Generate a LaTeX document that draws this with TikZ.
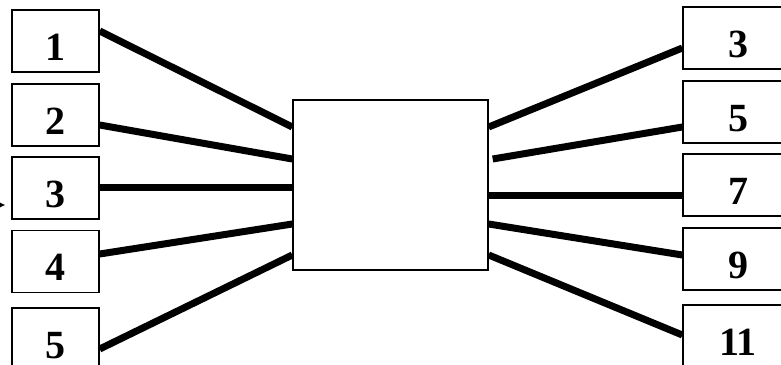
\documentclass[tikz,border=0pt]{standalone}
\usepackage{fontspec}
\setmainfont{Liberation Serif}
\usetikzlibrary{arrows.meta}

\tikzset{
  numbox/.style={draw, line width=1.4pt, minimum width=87pt, minimum height=62pt,
    inner sep=0pt, text height=38pt, text depth=0pt,
    font=\fontsize{40}{48}\selectfont\bfseries},
  outbox/.style={numbox, minimum width=110pt},
  wire/.style={line width=7pt}
}

\begin{document}
\begin{tikzpicture}[x=1pt, y=1pt]
	\useasboundingbox (0,0) rectangle (781,-364);
	
	% input side
	\foreach \name/\y/\t in {l1/41/1, l2/115/2, l3/188/3, l4/261.5/4, l5/339/5}
	\node[numbox] (\name) at (55.5,-\y) {\t};
	
	% output side
	\foreach \name/\y/\t in {r3/38/3, r5/112/5, r7/185/7, r9/259/9, r11/336/11}
	\node[outbox] (\name) at (738,-\y) {\t};
	
	\node[draw, line width=1.4pt, minimum width=195pt, minimum height=170pt] (hub) at (390.5,-185) {};
	
	\foreach \a/\da/\db in {l1/10/58, l2/-10/26, l3/1/-2, l4/7.5/-39, l5/-10/-70}
	\draw[wire] ([yshift=\da pt]\a.east) -- ([yshift=\db pt]hub.west);
	
	\foreach \b/\da/\db in {r3/58/-10, r7/-10/-10, r9/-39/4, r11/-70/1}
	\draw[wire] ([yshift=\da pt]hub.east) -- ([yshift=\db pt]\b.west);
	\draw[wire] ([xshift=4pt,yshift=26pt]hub.east) -- ([yshift=-15pt]r5.west);
	
	\coordinate (feed) at (-20,-205);
	\draw[line width=1pt, -{Latex[length=6pt,width=6pt]}] (feed) -- ([xshift=-6pt]l3.west |- feed);
\end{tikzpicture}
\end{document}
